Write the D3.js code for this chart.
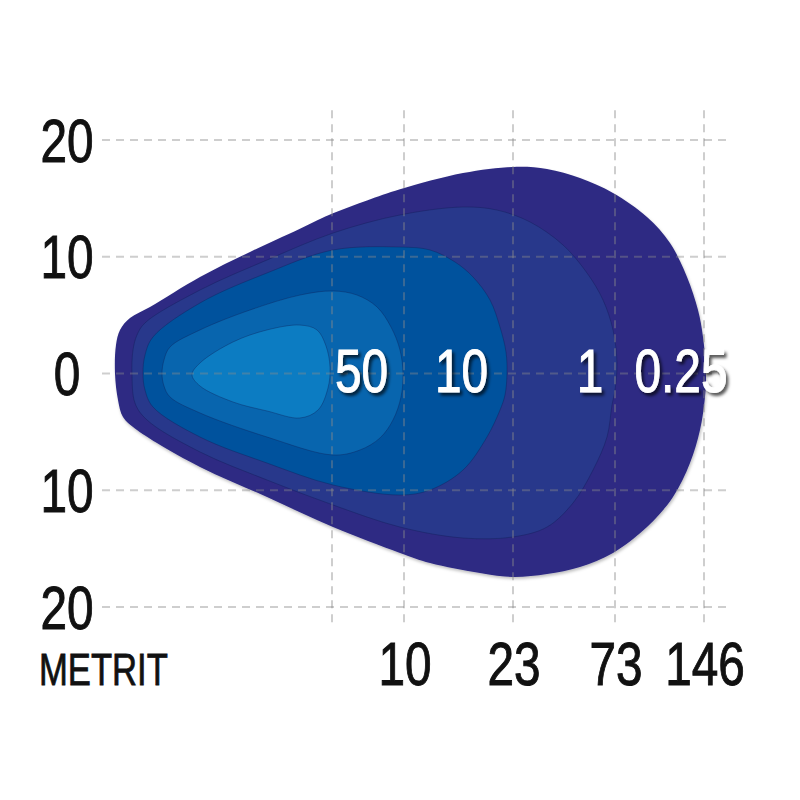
<!DOCTYPE html>
<html>
<head>
<meta charset="utf-8">
<script src="https://cdn.jsdelivr.net/npm/d3@7/dist/d3.min.js"></script>
<style>
  html, body { margin: 0; padding: 0; background: #ffffff; }
  svg { display: block; }
</style>
</head>
<body>
<svg id="chart" width="800" height="800"></svg>
<script>
// ---------- DATA ----------
// Lateral axis (metres) tick values and labels
const yTicks = [20, 10, 0, -10, -20];
const yTickLabels = ["20", "10", "0", "10", "20"];

// Distance grid (schematic chart units) and labels in metres
const xGrid = [23.2, 30.4, 41.3, 51.5, 60.4];
const xTickLabels = ["", "10", "23", "73", "146"];
const xAxisTitle = "METRIT";

// Isolux levels (lux) and where their labels sit (chart units)
const contourLevels = ["50", "10", "1", "0.25"];
const contourLabelX = [26.15, 36.15, 49.0, 58.1];
const contourLabelY = -1.6;

// Contour outlines [distance unit, lateral metres]
const contour025 = [
  [1.5, 0.0], [1.6, 2.44], [2.0, 3.73], [3.0, 4.75], [5.0, 5.70], [10.0, 8.27],
  [15.0, 10.41], [20.0, 12.40], [23.3, 13.72], [26.7, 14.82], [30.0, 15.78],
  [36.3, 17.17], [41.3, 17.69], [44.7, 17.52], [48.0, 16.74], [51.3, 15.46],
  [54.7, 13.40], [57.0, 11.18], [58.7, 8.27], [59.8, 5.44], [60.3, 3.13], [60.6, 0.0],
  [60.5, -2.01], [60.0, -4.84], [59.0, -7.67], [57.3, -10.58], [54.7, -13.15],
  [51.3, -15.37], [48.0, -16.57], [44.7, -17.17], [41.3, -17.43], [38.0, -17.09],
  [33.0, -16.23], [30.0, -15.37], [23.3, -13.15], [16.7, -10.58], [10.0, -8.01],
  [3.7, -4.84], [2.3, -3.73], [1.8, -2.27]
];
const contour1 = [
  [3.2, 0.0], [3.3, 2.01], [3.7, 3.30], [4.5, 4.33], [10.0, 7.15], [16.7, 9.72],
  [23.3, 12.03], [30.0, 13.58], [36.3, 14.26], [39.7, 14.00], [43.0, 12.98],
  [46.3, 11.01], [48.7, 8.61], [50.3, 6.30], [51.3, 3.73], [51.7, 0.90],
  [51.5, -1.41], [51.2, -2.70], [50.7, -5.44], [49.3, -8.27], [47.3, -11.09],
  [44.7, -13.15], [41.3, -14.00], [36.3, -14.09], [30.0, -13.15], [23.3, -11.26],
  [16.7, -9.12], [10.0, -6.72], [4.7, -3.98], [3.5, -2.53]
];
const contour10 = [
  [4.3, 0.0], [4.5, 1.58], [5.3, 3.13], [10.0, 6.04], [16.7, 8.61], [23.3, 10.58],
  [30.0, 10.83], [33.0, 10.58], [35.5, 9.55], [37.3, 8.27], [39.0, 6.30],
  [40.0, 3.98], [40.6, 1.84], [40.7, 0.0], [40.5, -1.84], [40.0, -3.13],
  [38.7, -5.44], [36.3, -8.27], [33.0, -9.98], [30.0, -10.41], [23.3, -9.55],
  [16.7, -7.67], [10.0, -5.44], [5.3, -2.87], [4.5, -1.41]
];
const contour50 = [
  [6.2, 0.0], [6.4, 1.16], [7.0, 2.27], [10.0, 3.73], [15.0, 5.44], [20.0, 6.72],
  [23.3, 7.07], [25.7, 6.72], [27.7, 5.70], [29.1, 3.98], [30.0, 2.01], [30.3, 0.0],
  [30.1, -2.01], [29.3, -3.98], [28.0, -5.52], [26.0, -6.55], [23.3, -6.98],
  [16.7, -5.44], [10.0, -3.38], [7.0, -2.01], [6.4, -1.07]
];
const contourCore = [
  [9.2, -0.1], [10.0, 0.90], [13.3, 2.70], [16.7, 3.73], [20.0, 4.15], [21.7, 3.73],
  [22.6, 2.36], [23.0, 0.56], [22.8, -1.24], [21.8, -3.13], [20.0, -3.81],
  [16.7, -3.21], [13.3, -2.44], [10.0, -1.07]
];

const contours = [contour025, contour1, contour10, contour50, contourCore];
const contourColors = ["#2e2a83", "#28388b", "#00529d", "#0865ae", "#0c7cc2"];

// ---------- LAYOUT ----------
const FONT = "'Liberation Sans', Arial, Helvetica, sans-serif";
const SX = 0.77;            // horizontal condensing of the type
const FS = 62;              // numeric label font size

const xScale = d3.scaleLinear().domain([0, 64]).range([100, 740]);
const yScale = d3.scaleLinear().domain([-20, 20]).range([607, 140]);

const svg = d3.select("#chart");
const defs = svg.append("defs");

const shadow = defs.append("filter").attr("id", "txtShadow")
  .attr("x", "-20%").attr("y", "-20%").attr("width", "150%").attr("height", "150%");
shadow.append("feDropShadow").attr("dx", 2.5).attr("dy", 3).attr("stdDeviation", 1.6)
  .attr("flood-color", "#000").attr("flood-opacity", 0.65);

const blobShadow = defs.append("filter").attr("id", "blobShadow")
  .attr("x", "-10%").attr("y", "-10%").attr("width", "120%").attr("height", "120%");
blobShadow.append("feDropShadow").attr("dx", 1).attr("dy", 2).attr("stdDeviation", 1.5)
  .attr("flood-color", "#000").attr("flood-opacity", 0.25);

// ---------- CONTOURS ----------
const line = d3.line()
  .x(d => xScale(d[0]))
  .y(d => yScale(d[1]))
  .curve(d3.curveCatmullRomClosed.alpha(0.5));

svg.append("g").selectAll("path")
  .data(contours)
  .join("path")
  .attr("d", d => line(d))
  .attr("fill", (d, i) => contourColors[i])
  .attr("stroke", (d, i) => i === 0 ? "none" : "rgba(15,25,80,0.35)")
  .attr("stroke-width", 1)
  .attr("filter", (d, i) => i === 0 ? "url(#blobShadow)" : null);

// ---------- GRID ----------
const grid = svg.append("g")
  .attr("stroke", "#8a8a8a")
  .attr("stroke-opacity", 0.42)
  .attr("stroke-width", 2)
  .attr("stroke-dasharray", "8,6");

grid.selectAll("line.h")
  .data(yTicks)
  .join("line")
  .attr("class", "h")
  .attr("x1", xScale(0.2)).attr("x2", xScale(62.7))
  .attr("y1", d => yScale(d)).attr("y2", d => yScale(d));

grid.selectAll("line.v")
  .data(xGrid)
  .join("line")
  .attr("class", "v")
  .attr("x1", d => xScale(d)).attr("x2", d => xScale(d))
  .attr("y1", yScale(22.55)).attr("y2", yScale(-21.55));

// ---------- TEXT ----------
function condText(parent, x, y, str, size, anchor) {
  return parent.append("text")
    .attr("transform", `translate(${x},${y}) scale(${SX},1)`)
    .attr("text-anchor", anchor)
    .attr("font-family", FONT)
    .attr("font-size", size)
    .text(str);
}

const yLab = svg.append("g").attr("fill", "#111").attr("stroke", "#111").attr("stroke-width", 1);
yTicks.forEach((v, i) => {
  condText(yLab, 67, yScale(v) + 21.5, yTickLabels[i], FS, "middle");
});

const xLab = svg.append("g").attr("fill", "#111").attr("stroke", "#111").attr("stroke-width", 1);
xGrid.forEach((v, i) => {
  if (xTickLabels[i]) condText(xLab, xScale(v) + 1, 685, xTickLabels[i], FS, "middle");
});
condText(xLab, 39, 685, xAxisTitle, 45, "start").attr("stroke-width", 0.8);

const cLab = svg.append("g").attr("fill", "#ffffff").attr("stroke", "#ffffff")
  .attr("stroke-width", 1).attr("filter", "url(#txtShadow)");
contourLevels.forEach((s, i) => {
  condText(cLab, xScale(contourLabelX[i]), yScale(contourLabelY), s, FS, "middle");
});
</script>
</body>
</html>
